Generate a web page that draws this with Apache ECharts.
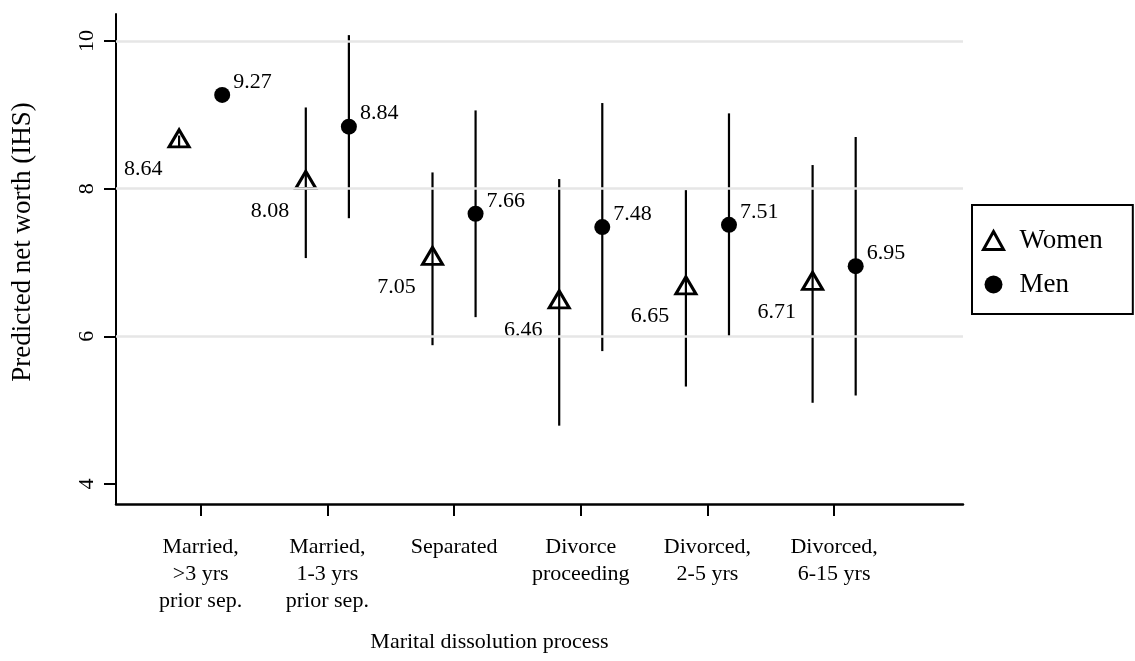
<!DOCTYPE html>
<html>
<head>
<meta charset="utf-8">
<script src="https://cdn.jsdelivr.net/npm/echarts@6/dist/echarts.min.js"></script>
<style>
html,body{margin:0;padding:0;background:#fff;}
#chart{width:1135px;height:661px;}
</style>
</head>
<body>
<div id="chart"></div>
<script>
const categories = ["Married,\n>3 yrs\nprior sep.", "Married,\n1-3 yrs\nprior sep.", "Separated", "Divorce\nproceeding", "Divorced,\n2-5 yrs", "Divorced,\n6-15 yrs"];
const womenEst = [8.64, 8.08, 7.05, 6.46, 6.65, 6.71];
const womenLo  = [8.57, 7.06, 5.88, 4.79, 5.32, 5.10];
const womenHi  = [8.72, 9.10, 8.22, 8.13, 7.98, 8.32];
const menEst   = [9.27, 8.84, 7.66, 7.48, 7.51, 6.95];
const menLo    = [9.21, 7.60, 6.26, 5.80, 6.00, 5.20];
const menHi    = [9.33, 10.08, 9.06, 9.16, 9.02, 8.70];
const yTicks = [4, 6, 8, 10];
const gridValues = [6, 8, 10];
const catPositions = [1, 2, 3, 4, 5, 6];

const FONT = '"Liberation Serif", "DejaVu Serif", serif';
const OFF = 0.17;

const womenPts = womenEst.map((v, i) => [catPositions[i] - OFF, v]);
const menPts = menEst.map((v, i) => [catPositions[i] + OFF, v]);
const womenBars = womenEst.map((v, i) => [catPositions[i] - OFF, womenLo[i], womenHi[i]]);
const menBars = menEst.map((v, i) => [catPositions[i] + OFF, menLo[i], menHi[i]]);

function barRender(params, api) {
  const x = api.value(0);
  const p1 = api.coord([x, api.value(1)]);
  const p2 = api.coord([x, api.value(2)]);
  return {
    type: 'line',
    shape: {x1: p1[0], y1: p1[1], x2: p2[0], y2: p2[1]},
    style: {stroke: '#000', lineWidth: 2.2}
  };
}

const chart = echarts.init(document.getElementById('chart'), null, {renderer: 'canvas'});
chart.setOption({
  animation: false,
  backgroundColor: '#fff',
  textStyle: {fontFamily: FONT},
  grid: {left: 116, right: 172, top: 14, bottom: 157, containLabel: false, outerBoundsMode: 'none'},
  legend: {
    orient: 'vertical',
    left: 972, top: 205,
    borderColor: '#000', borderWidth: 2,
    padding: [22, 30, 16, 10],
    itemWidth: 20, itemHeight: 18,
    itemGap: 17,
    textStyle: {fontFamily: FONT, fontSize: 27, color: '#000', padding: [0, 0, 0, 11]},
    data: [
      {name: 'Women', icon: 'triangle', itemStyle: {color: 'transparent', borderColor: '#000', borderWidth: 3, opacity: 1}},
      {name: 'Men', icon: 'circle', itemStyle: {color: '#000', borderWidth: 0, opacity: 1}}
    ]
  },
  xAxis: {
    type: 'value',
    min: 0.332, max: 7.017,
    name: 'Marital dissolution process',
    nameLocation: 'middle',
    nameGap: 127,
    nameTextStyle: {fontFamily: FONT, fontSize: 22, color: '#000', padding: [0, 100, 0, 0]},
    axisLine: {show: true, onZero: false, lineStyle: {color: '#000', width: 2.5}},
    axisTick: {show: true, customValues: catPositions, length: 12, inside: false, lineStyle: {color: '#000', width: 2}},
    axisLabel: {
      customValues: catPositions,
      formatter: v => categories[Math.round(v) - 1] || '',
      margin: 30,
      fontFamily: FONT, fontSize: 22, color: '#000', lineHeight: 27, align: 'center'
    },
    splitLine: {show: false}
  },
  yAxis: {
    type: 'value',
    min: 3.729, max: 10.366,
    name: 'Predicted net worth (IHS)',
    nameLocation: 'middle',
    nameGap: 80,
    nameRotate: 90,
    nameTextStyle: {fontFamily: FONT, fontSize: 27, color: '#000', padding: [0, 0, 0, 34]},
    axisLine: {show: true, onZero: false, lineStyle: {color: '#000', width: 2}},
    axisTick: {show: true, customValues: yTicks, length: 12, lineStyle: {color: '#000', width: 2}},
    axisLabel: {
      customValues: yTicks,
      rotate: 90,
      margin: 18,
      fontFamily: FONT, fontSize: 22, color: '#000'
    },
    splitLine: {show: false}
  },
  series: [
    {
      name: 'gridlines',
      type: 'line',
      data: [],
      silent: true,
      markLine: {
        silent: true,
        symbol: 'none',
        label: {show: false},
        lineStyle: {color: '#e6e6e6', width: 2.5, type: 'solid'},
        data: gridValues.map(v => ({yAxis: v}))
      },
      z: 0
    },
    {
      name: 'WomenCI',
      type: 'custom',
      renderItem: barRender,
      data: womenBars,
      encode: {x: 0, y: [1, 2]},
      silent: true,
      z: 3
    },
    {
      name: 'MenCI',
      type: 'custom',
      renderItem: barRender,
      data: menBars,
      encode: {x: 0, y: [1, 2]},
      silent: true,
      z: 3
    },
    {
      name: 'Women',
      type: 'scatter',
      data: womenPts,
      symbol: 'triangle',
      symbolSize: [20, 17],
      symbolOffset: [0, -3],
      itemStyle: {color: 'transparent', borderColor: '#000', borderWidth: 3, opacity: 1},
      label: {
        show: true,
        position: 'left',
        distance: 5,
        offset: [0, 31],
        formatter: p => p.value[1].toFixed(2),
        fontFamily: FONT, fontSize: 22, color: '#000'
      },
      z: 4
    },
    {
      name: 'Men',
      type: 'scatter',
      data: menPts,
      symbol: 'circle',
      symbolSize: 16,
      itemStyle: {color: '#000', opacity: 1},
      label: {
        show: true,
        position: 'right',
        distance: 3,
        offset: [0, -13],
        formatter: p => p.value[1].toFixed(2),
        fontFamily: FONT, fontSize: 22, color: '#000'
      },
      z: 4
    }
  ]
});
</script>
</body>
</html>
